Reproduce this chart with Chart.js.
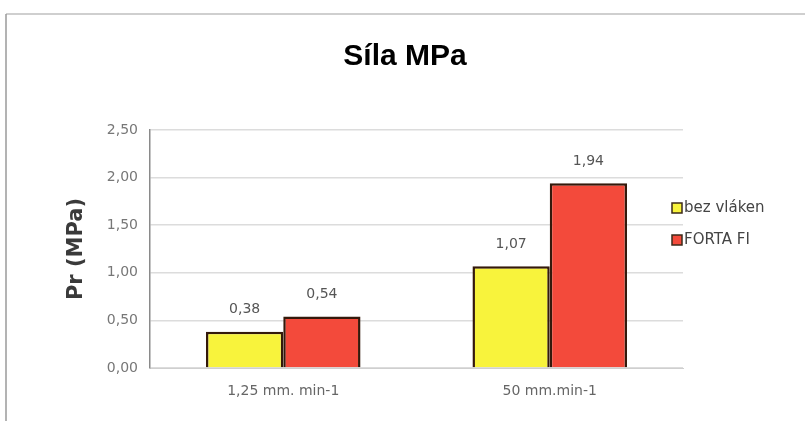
<!DOCTYPE html>
<html>
<head>
<meta charset="utf-8">
<script src="https://cdn.jsdelivr.net/npm/chart.js@4/dist/chart.umd.min.js"></script>
<style>
  html, body { margin: 0; padding: 0; background: #fff; }
  #wrap { width: 805px; height: 421px; }
</style>
</head>
<body>
<div id="wrap"><canvas id="chart" width="805" height="421"></canvas></div>
<script>
const chartTitle = 'Síla MPa';
const categories = ['1,25 mm. min-1', '50 mm.min-1'];
const seriesNames = ['bez vláken', 'FORTA FI'];
const bezVlaken = [0.38, 1.07];
const fortaFi = [0.54, 1.94];
const yTicks = [0, 0.5, 1, 1.5, 2, 2.5];

const barColors = ['#f8f33c', '#f34a3b'];
const barBorder = '#34190b';

function fmt(v) {
    return v.toFixed(2).replace('.', ',');
}

// frame lines and the title
const framePlugin = {
    id: 'frame',
    beforeDraw(chart) {
        const ctx = chart.ctx;
        ctx.save();
        ctx.strokeStyle = '#cfcfcf';
        ctx.lineWidth = 2;
        ctx.beginPath();
        ctx.moveTo(6, 14);
        ctx.lineTo(805, 14);
        ctx.stroke();
        ctx.strokeStyle = '#9a9a9a';
        ctx.lineWidth = 1.5;
        ctx.beginPath();
        ctx.moveTo(6, 14);
        ctx.lineTo(6, 421);
        ctx.stroke();

        ctx.font = 'bold 30px "Liberation Sans"';
        ctx.fillStyle = '#000';
        ctx.textAlign = 'center';
        ctx.textBaseline = 'middle';
        ctx.fillText(chartTitle, 405, 57);
        ctx.restore();
    }
};

// value labels above the bars
const valueLabels = {
    id: 'valueLabels',
    afterDatasetsDraw(chart) {
        const ctx = chart.ctx;
        ctx.save();
        ctx.font = '14px "DejaVu Sans"';
        ctx.fillStyle = '#555';
        ctx.textAlign = 'center';
        ctx.textBaseline = 'bottom';
        chart.data.datasets.forEach((ds, i) => {
            chart.getDatasetMeta(i).data.forEach((bar, j) => {
                ctx.fillText(fmt(ds.data[j]), bar.x, bar.y - 15);
            });
        });
        ctx.restore();
    }
};

// legend at the right side
const sideLegend = {
    id: 'sideLegend',
    afterDraw(chart) {
        const ctx = chart.ctx;
        ctx.save();
        ctx.font = '15px "DejaVu Sans"';
        ctx.textBaseline = 'middle';
        ctx.textAlign = 'left';
        chart.data.datasets.forEach((ds, i) => {
            const y = 208 + i * 32;
            ctx.fillStyle = ds.backgroundColor;
            ctx.fillRect(672, y - 5, 10, 10);
            ctx.strokeStyle = '#3b2a1a';
            ctx.lineWidth = 1.5;
            ctx.strokeRect(672, y - 5, 10, 10);
            ctx.fillStyle = '#444';
            ctx.fillText(ds.label, 684, y);
        });
        ctx.restore();
    }
};

const ctx = document.getElementById('chart').getContext('2d');
new Chart(ctx, {
    type: 'bar',
    data: {
        labels: categories,
        datasets: [
            {
                label: seriesNames[0],
                data: bezVlaken,
                backgroundColor: barColors[0],
                borderColor: barBorder,
                borderWidth: 2.5
            },
            {
                label: seriesNames[1],
                data: fortaFi,
                backgroundColor: barColors[1],
                borderColor: barBorder,
                borderWidth: 2.5
            }
        ]
    },
    options: {
        responsive: false,
        animation: false,
        devicePixelRatio: 1,
        barPercentage: 1,
        categoryPercentage: 0.58,
        layout: {
            padding: { left: 40, right: 122, top: 130, bottom: 13 }
        },
        scales: {
            x: {
                grid: { display: false, drawTicks: false },
                border: { color: '#cfcfcf' },
                ticks: {
                    padding: 15,
                    color: '#666',
                    font: { family: 'DejaVu Sans', size: 14 }
                },
                afterFit(scale) { scale.height = 40; }
            },
            y: {
                min: 0,
                max: 2.5,
                afterBuildTicks(scale) {
                    scale.ticks = yTicks.map(v => ({ value: v }));
                },
                grid: { color: '#dcdcdc', lineWidth: 1.5, drawTicks: false },
                border: { color: '#8a8a8a', width: 1.5 },
                ticks: {
                    padding: 12,
                    color: '#777',
                    font: { family: 'DejaVu Sans', size: 14 },
                    callback: v => fmt(v)
                },
                title: {
                    display: true,
                    text: 'Pr (MPa)',
                    color: '#3a3a3a',
                    font: { family: 'DejaVu Sans', size: 21, weight: 'bold' },
                    padding: { top: 24, bottom: 0 }
                },
                afterFit(scale) { scale.width = 110; }
            }
        },
        plugins: {
            legend: { display: false },
            tooltip: { enabled: false },
            title: { display: false }
        }
    },
    plugins: [framePlugin, valueLabels, sideLegend]
});
</script>
</body>
</html>
